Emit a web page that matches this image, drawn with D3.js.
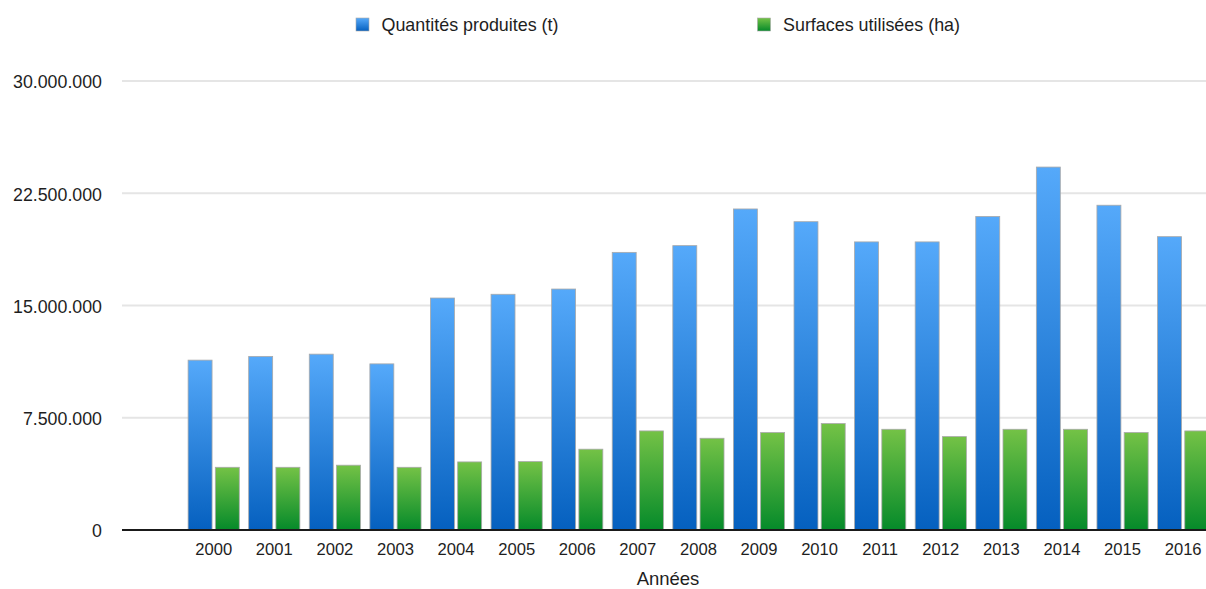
<!DOCTYPE html>
<html>
<head>
<meta charset="utf-8">
<script src="https://cdn.jsdelivr.net/npm/d3@7"></script>
<style>
  html, body { margin: 0; padding: 0; background: #fff; }
  svg { display: block; font-family: "Liberation Sans", Arial, Helvetica, sans-serif; }
</style>
</head>
<body>
<svg id="chart" width="1206" height="589"></svg>
<script>
// Production and area per year
const years = ["2000","2001","2002","2003","2004","2005","2006","2007","2008","2009","2010","2011","2012","2013","2014","2015","2016"];
const quantites = [11350000, 11600000, 11750000, 11100000, 15500000, 15750000, 16100000, 18550000, 19000000, 21450000, 20600000, 19250000, 19250000, 20950000, 24250000, 21700000, 19600000];
const surfaces  = [4190000, 4190000, 4330000, 4190000, 4550000, 4570000, 5400000, 6620000, 6130000, 6510000, 7110000, 6730000, 6240000, 6730000, 6730000, 6510000, 6620000];
const seriesNames = ["Quantités produites (t)", "Surfaces utilisées (ha)"];
const yTicks = [0, 7500000, 15000000, 22500000, 30000000];
const xTitle = "Années";

const svg = d3.select("#chart");
const W = 1206;

// Layout
const plotLeft = 122, plotTop = 81, plotBottom = 530;
const step = 60.59;
const firstSlot = 183.4;

const fr = d3.formatLocale({ decimal: ",", thousands: ".", grouping: [3], currency: ["", " €"] });
const fmt = fr.format(",d");

const y = d3.scaleLinear().domain([0, 30000000]).range([plotBottom, plotTop]);
const x = d3.scaleBand().domain(years)
  .range([firstSlot, firstSlot + years.length * step])
  .paddingInner(0.155).paddingOuter(0.0775);
const keys = ["q", "s"];
const x1 = d3.scaleBand().domain(keys).range([0, x.bandwidth()]).paddingInner(0.12);

// Gradients
const defs = svg.append("defs");
function grad(id, top, bottom) {
  const g = defs.append("linearGradient").attr("id", id)
    .attr("x1", 0).attr("y1", 0).attr("x2", 0).attr("y2", 1);
  g.append("stop").attr("offset", "0%").attr("stop-color", top);
  g.append("stop").attr("offset", "100%").attr("stop-color", bottom);
}
grad("gBlue", "#55a9fa", "#0560bf");
grad("gGreen", "#74c246", "#058a2a");
const fills = { q: "url(#gBlue)", s: "url(#gGreen)" };

// Value axis labels
const yAxis = d3.axisLeft(y).tickValues(yTicks).tickFormat(fmt).tickSize(0).tickPadding(20);
const gy = svg.append("g").attr("transform", `translate(${plotLeft},0)`).call(yAxis);
gy.select(".domain").remove();
gy.selectAll("text")
  .attr("fill", "#1e1e1e").attr("font-size", "17.8px")
  .attr("font-family", "\"Liberation Sans\", Arial, sans-serif")
  .attr("dy", "0.38em");

// Gridlines
svg.append("g").selectAll("line")
  .data(yTicks.filter(d => d !== 0))
  .join("line")
  .attr("x1", plotLeft).attr("x2", W)
  .attr("y1", d => y(d)).attr("y2", d => y(d))
  .attr("stroke", "#e5e5e5").attr("stroke-width", 2.2);

// Bars
const data = years.map((yr, i) => ({ year: yr, q: quantites[i], s: surfaces[i] }));
const groups = svg.append("g").selectAll("g")
  .data(data).join("g")
  .attr("transform", d => `translate(${x(d.year)},0)`);

groups.selectAll("rect")
  .data(d => keys.map(k => ({ key: k, value: d[k] })))
  .join("rect")
  .attr("x", d => x1(d.key))
  .attr("width", x1.bandwidth())
  .attr("y", d => y(d.value))
  .attr("height", d => y(0) - y(d.value))
  .attr("fill", d => fills[d.key])
  .attr("stroke", "#a9a9a9").attr("stroke-width", 0.8);

// Baseline and category labels
const xAxis = d3.axisBottom(x).tickSize(0).tickPadding(13);
const gx = svg.append("g").attr("transform", `translate(0,${plotBottom})`).call(xAxis);
gx.select(".domain").remove();
gx.selectAll("text")
  .attr("fill", "#1e1e1e").attr("font-size", "16.6px")
  .attr("font-family", "\"Liberation Sans\", Arial, sans-serif");

svg.append("line")
  .attr("x1", plotLeft).attr("x2", W)
  .attr("y1", y(0)).attr("y2", y(0))
  .attr("stroke", "#1a1a1a").attr("stroke-width", 2);

// Axis title
svg.append("text")
  .attr("x", 668).attr("y", 585)
  .attr("text-anchor", "middle")
  .attr("fill", "#1e1e1e").attr("font-size", "18.5px")
  .text(xTitle);

// Legend
const legendPos = [{ sx: 356, key: "q" }, { sx: 757.5, key: "s" }];
const lg = svg.append("g").selectAll("g")
  .data(legendPos).join("g")
  .attr("transform", d => `translate(${d.sx},18)`);
lg.append("rect")
  .attr("width", 13).attr("height", 13)
  .attr("fill", d => fills[d.key])
  .attr("stroke", "#a9a9a9").attr("stroke-width", 0.6);
lg.append("text")
  .attr("x", 25.5).attr("y", 12.8)
  .attr("fill", "#1e1e1e").attr("font-size", "17.9px")
  .text((d, i) => seriesNames[i]);
</script>
</body>
</html>
